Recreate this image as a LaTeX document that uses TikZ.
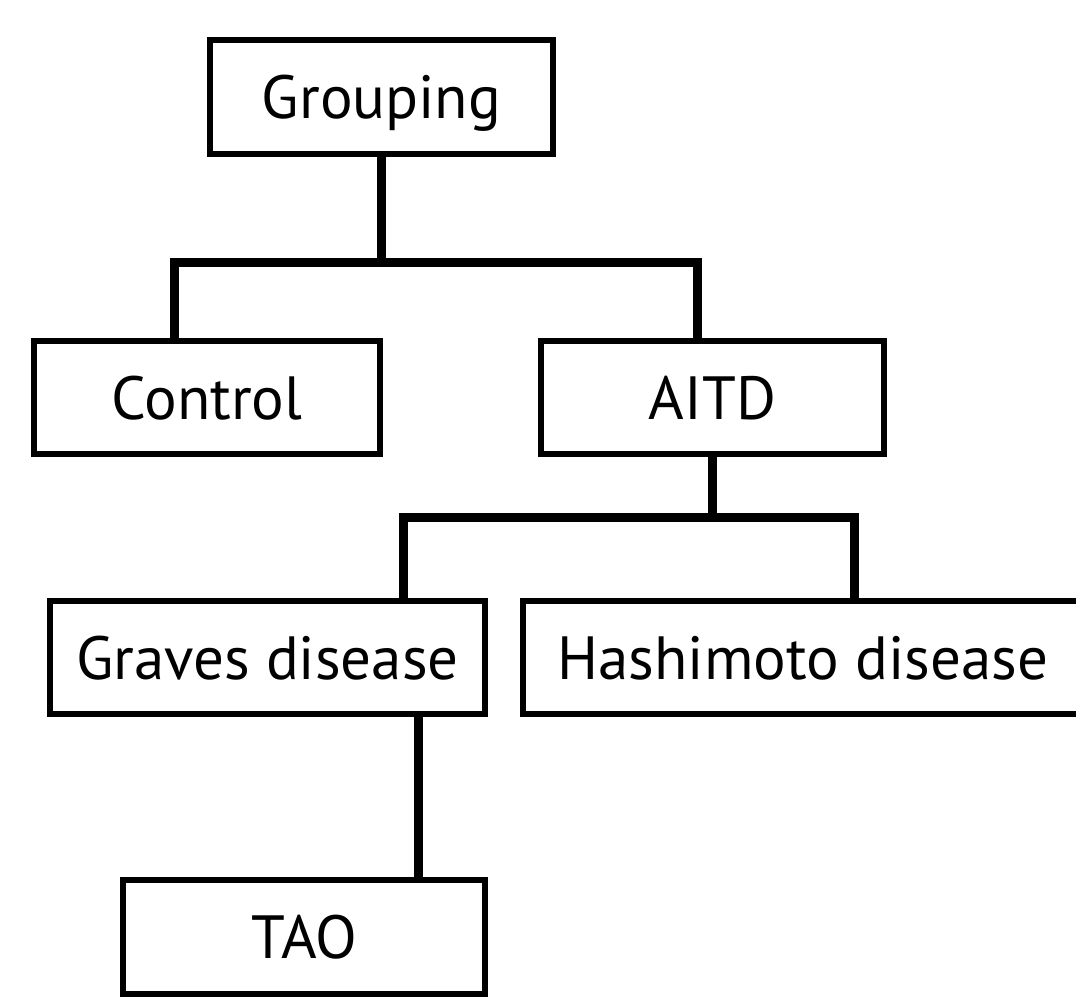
\documentclass[tikz,border=0pt]{standalone}
\usepackage{fontspec}
\setmainfont{PT Sans}
\begin{document}
\begin{tikzpicture}[x=1pt,y=-1pt,
  box/.style={draw=black,line width=6pt,rectangle,inner sep=0pt,
    font=\fontsize{61}{67}\selectfont,text height=43pt,text depth=0pt},
  conn/.style={draw=black,line width=9pt,line join=miter}]
\useasboundingbox (0,0) rectangle (1076,1004);
\clip (0,0) rectangle (1076,1004);
\node[box,minimum width=343pt,minimum height=114pt] (grouping) at (381.5,97) {Grouping};
\node[box,minimum width=346pt,minimum height=113pt] (control) at (207,397.5) {Control};
\node[box,minimum width=343pt,minimum height=113pt] (aitd) at (712.5,397.5) {AITD};
\node[box,minimum width=435pt,minimum height=113pt] (graves) at (267.5,657.5) {Graves disease};
\node[box,minimum width=560pt,minimum height=113pt] (hashimoto) at (803,657.5) {Hashimoto disease};
\node[box,minimum width=362pt,minimum height=114pt] (tao) at (304,937) {TAO};
\coordinate (c1) at (174,262);
\coordinate (a1) at (697,262);
\coordinate (g1) at (403,517);
\coordinate (h1) at (854,517);
\draw[conn] (grouping.south) -- (grouping.south |- c1);
\draw[conn] (control.north -| c1) -- (c1) -- (a1) -- (aitd.north -| a1);
\draw[conn] (aitd.south) -- (aitd.south |- g1);
\draw[conn] (graves.north -| g1) -- (g1) -- (h1) -- (hashimoto.north -| h1);
\coordinate (t1) at (418,717);
\draw[conn] (graves.south -| t1) -- (tao.north -| t1);
\end{tikzpicture}
\end{document}
